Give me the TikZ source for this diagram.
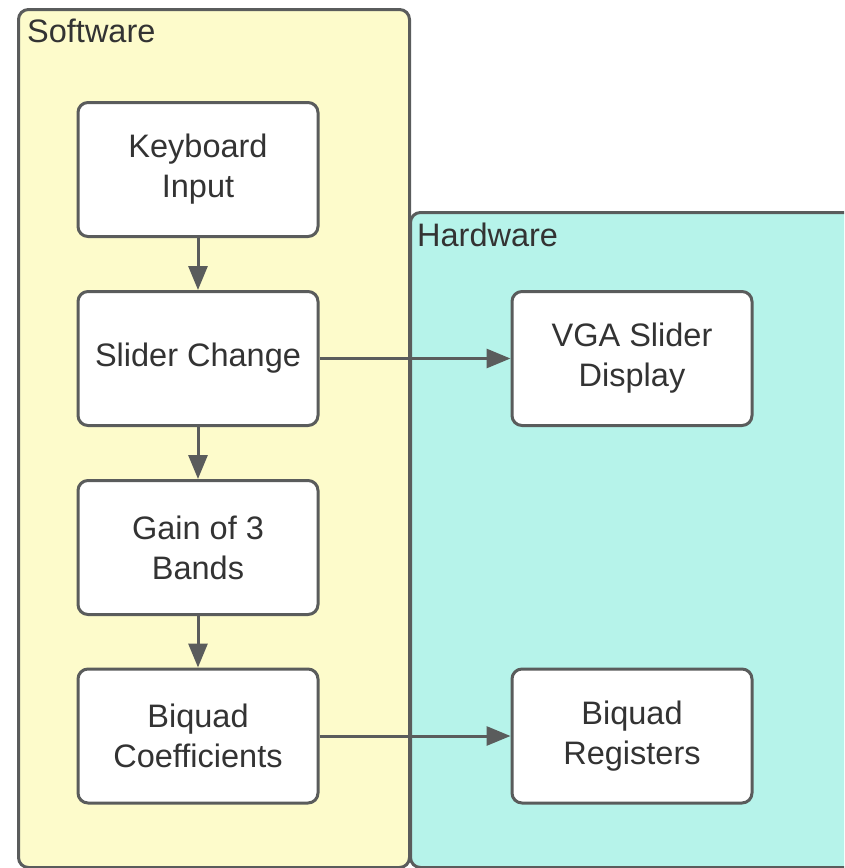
\documentclass[tikz,border=0pt]{standalone}
\usepackage{fontspec}
\setmainfont{Liberation Sans}
\usetikzlibrary{arrows.meta}
\definecolor{swfill}{HTML}{FDFBCB}
\definecolor{hwfill}{HTML}{B6F3EA}
\definecolor{edge}{HTML}{5A5C5C}
\definecolor{txt}{HTML}{333333}
\tikzset{
  group/.style={draw=edge, line width=3pt, rounded corners=10pt, inner sep=0pt},
  grouplabel/.style={anchor=base west, inner sep=0pt, text=txt,
    font=\fontsize{32.5}{40}\selectfont},
  block/.style={draw=edge, fill=white, line width=3pt, rounded corners=10pt,
    minimum width=240pt, minimum height=134pt, align=center, text=txt,
    font=\fontsize{32.5}{40}\selectfont, inner sep=0pt},
  flow/.style={draw=edge, line width=3pt,
    -{Triangle[length=24pt,width=19pt]}},
}
\begin{document}
\begin{tikzpicture}[x=1pt,y=-1pt]
  \useasboundingbox (0,0) rectangle (844,868);
  \clip (0,0) rectangle (844,868);
  % containers
  \node (sw) [group, fill=swfill, minimum width=391pt, minimum height=858pt,
    anchor=north west] at (17,8) {};
  \node (hw) [group, fill=hwfill, minimum width=480pt, minimum height=655pt,
    anchor=north west] at (409,211) {};
  \node (swlabel) [grouplabel] at (27,42) {Software};
  \node (hwlabel) [grouplabel] at (417,246) {Hardware};
  % software blocks
  \node (kbd)  [block] at (198,169.5) {Keyboard\\Input};
  \node (sld)  [block] at (198,358.5) {Slider Change};
  \node (gain) [block] at (198,547.5) {Gain of 3\\Bands};
  \node (bqc)  [block] at (198,736) {Biquad\\Coefficients};
  % hardware blocks
  \node (vga)  [block] at (632,358.5) {VGA Slider\\Display};
  \node (bqr)  [block] at (632,736) {Biquad\\Registers};
  % connectors
  \draw[flow] (kbd) -- (sld);
  \draw[flow] (sld) -- (gain);
  \draw[flow] (gain) -- (bqc);
  \draw[flow] (sld) -- (vga);
  \draw[flow] (bqc) -- (bqr);
\end{tikzpicture}
\end{document}
